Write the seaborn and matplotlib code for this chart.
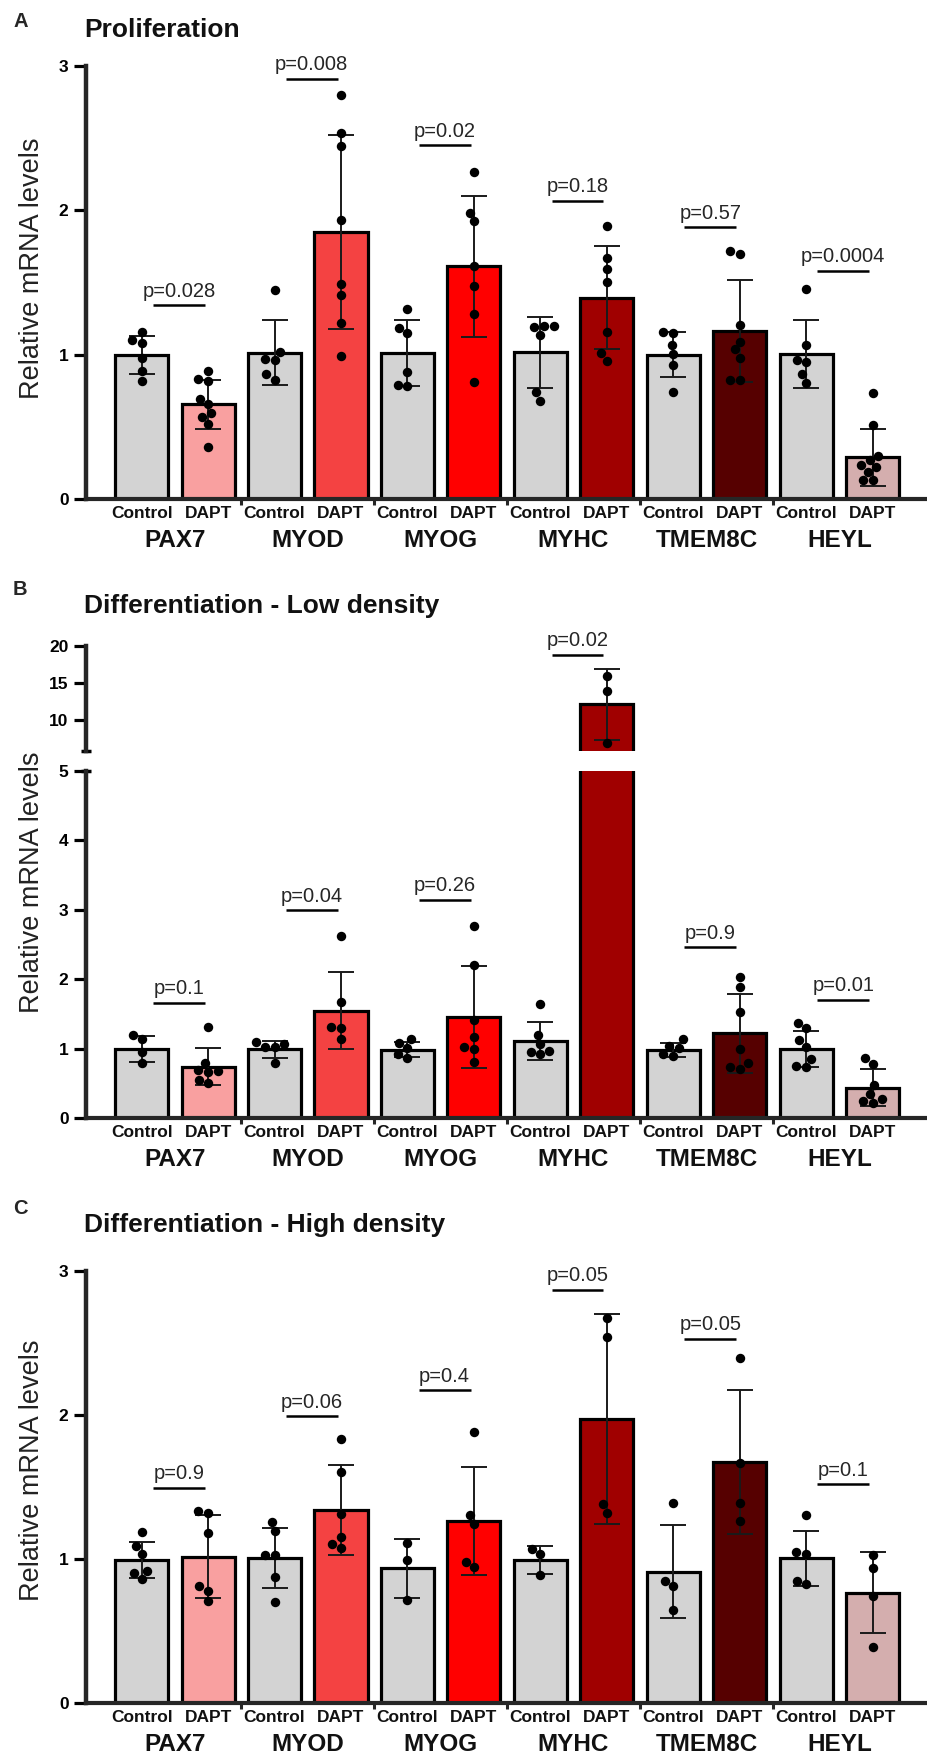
import numpy as np
import pandas as pd
import matplotlib
matplotlib.use("Agg")
import matplotlib.pyplot as plt
import seaborn as sns

# genes and groups
genes = ["PAX7", "MYOD", "MYOG", "MYHC", "TMEM8C", "HEYL"]
conditions = ["Control", "DAPT"]
control_color = "#D3D3D3"
dapt_colors = ["#F9A0A0", "#F44242", "#FF0000", "#A00000", "#560000", "#D4AEAE"]

# A - Proliferation (bar order: gene Control, gene DAPT, ...)
prolif_means = [1.00, 0.657, 1.012, 1.85, 1.012, 1.613, 1.017, 1.394, 1.0, 1.165, 1.005, 0.289]
prolif_sd = [0.131, 0.17, 0.225, 0.672, 0.228, 0.488, 0.245, 0.357, 0.157, 0.354, 0.236, 0.199]
prolif_points = [
    [1.16, 1.10, 1.08, 0.975, 0.886, 0.815],
    [0.886, 0.831, 0.819, 0.696, 0.655, 0.593, 0.569, 0.517, 0.362],
    [1.446, 1.017, 0.97, 0.963, 0.863, 0.827],
    [2.80, 2.535, 2.447, 1.935, 1.49, 1.41, 1.22, 0.994],
    [1.315, 1.184, 1.148, 0.879, 0.791, 0.784],
    [2.268, 1.982, 1.923, 1.613, 1.475, 1.284, 0.808],
    [1.20, 1.20, 1.189, 1.137, 0.739, 0.679],
    [1.894, 1.67, 1.594, 1.501, 1.16, 1.013, 0.958],
    [1.16, 1.148, 1.07, 1.005, 0.927, 0.739],
    [1.72, 1.696, 1.208, 1.089, 1.036, 0.98, 0.827, 0.827],
    [1.458, 1.065, 0.963, 0.946, 0.863, 0.803],
    [0.731, 0.512, 0.298, 0.267, 0.236, 0.219, 0.188, 0.131, 0.131],
]
prolif_p = ["p=0.028", "p=0.008", "p=0.02", "p=0.18", "p=0.57", "p=0.0004"]
prolif_p_y = [1.344, 2.912, 2.452, 2.066, 1.882, 1.582]

# B - Differentiation, low density
low_means = [0.995, 0.745, 0.99, 1.55, 0.988, 1.46, 1.111, 12.1, 0.985, 1.221, 1.001, 0.44]
low_sd = [0.185, 0.26, 0.121, 0.55, 0.11, 0.73, 0.275, 4.8, 0.1, 0.564, 0.26, 0.27]
low_points = [
    [1.194, 1.139, 0.957, 0.792],
    [1.32, 0.80, 0.70, 0.68, 0.67, 0.55, 0.51],
    [1.10, 1.067, 1.03, 1.03, 0.792],
    [2.624, 1.672, 1.32, 1.304, 1.139],
    [1.139, 1.083, 1.012, 0.919, 0.864],
    [2.761, 2.2, 1.414, 1.166, 1.029, 1.0, 0.809],
    [1.645, 1.205, 1.073, 0.974, 0.957, 0.919],
    [15.95, 13.9, 6.95],
    [1.139, 1.045, 1.012, 0.919, 0.902],
    [2.035, 1.892, 1.524, 1.001, 0.792, 0.737, 0.715],
    [1.375, 1.304, 1.122, 1.029, 0.853, 0.754, 0.737],
    [0.864, 0.781, 0.479, 0.352, 0.275, 0.242, 0.22],
]
low_p = ["p=0.1", "p=0.04", "p=0.26", "p=0.02", "p=0.9", "p=0.01"]
low_p_y = [1.661, 2.992, 3.146, 18.85, 2.459, 1.705]

# C - Differentiation, high density
high_means = [0.995, 1.015, 1.008, 1.34, 0.936, 1.266, 0.993, 1.973, 0.914, 1.673, 1.005, 0.766]
high_sd = [0.126, 0.288, 0.206, 0.31, 0.205, 0.374, 0.097, 0.729, 0.323, 0.5, 0.191, 0.281]
high_points = [
    [1.189, 1.093, 1.038, 0.92, 0.906, 0.865],
    [1.334, 1.32, 1.18, 0.81, 0.782, 0.708],
    [1.257, 1.194, 1.029, 1.029, 0.878, 0.70],
    [1.834, 1.606, 1.312, 1.153, 1.106, 1.079],
    [1.112, 0.996, 0.716],
    [1.88, 1.304, 1.243, 0.983, 0.947],
    [1.073, 1.038, 0.887],
    [2.671, 2.542, 1.381, 1.32],
    [1.389, 0.845, 0.81, 0.645],
    [2.396, 1.669, 1.389, 1.265],
    [1.304, 1.046, 1.038, 0.845, 0.826],
    [1.029, 0.936, 0.744, 0.387],
]
high_p = ["p=0.9", "p=0.06", "p=0.4", "p=0.05", "p=0.05", "p=0.1"]
high_p_y = [1.496, 1.993, 2.171, 2.869, 2.528, 1.518]

bar_names = [f"{g} {c}" for g in genes for c in conditions]
palette = {}
for g, dc in zip(genes, dapt_colors):
    palette[f"{g} Control"] = control_color
    palette[f"{g} DAPT"] = dc

sns.set_theme(style="white")
plt.rcParams["font.family"] = ["Liberation Sans", "DejaVu Sans"]

W, H = 927, 1760
fig = plt.figure(figsize=(W / 100, H / 100), dpi=100)


def px_box(left, top, right, bottom):
    return [left / W, 1 - bottom / H, (right - left) / W, (bottom - top) / H]


def draw_bars(ax, means, sds, points, lo, hi):
    bars = pd.DataFrame({"bar": bar_names, "mean": means})
    sns.barplot(data=bars, x="bar", y="mean", hue="bar", palette=palette,
                order=bar_names, hue_order=bar_names, legend=False, width=0.8,
                saturation=1, edgecolor="black", linewidth=2.3, errorbar=None,
                ax=ax, zorder=2)
    ax.errorbar(np.arange(len(bar_names)), means, yerr=sds, fmt="none",
                ecolor="#1a1a1a", elinewidth=1.4, capsize=9.5, capthick=1.4, zorder=3)
    pts = pd.DataFrame([(b, v) for b, vals in zip(bar_names, points) for v in vals],
                       columns=["bar", "value"])
    pts = pts[(pts["value"] >= lo) & (pts["value"] <= hi)]
    sns.swarmplot(data=pts, x="bar", y="value", order=bar_names, color="black",
                  size=6.8, ax=ax, zorder=4)


def add_pvalues(ax, texts, heights, lo, hi):
    for i, (txt, y) in enumerate(zip(texts, heights)):
        if not (lo <= y <= hi):
            continue
        xc = 2 * i + 0.56
        ax.plot([xc - 0.39, xc + 0.39], [y, y], color="black", lw=1.8,
                solid_capstyle="butt", zorder=5)
        ax.annotate(txt, (xc, y), xytext=(0, 6), textcoords="offset points",
                    ha="center", va="baseline", fontsize=14.5, color="#262626")


def style_axes(ax, ticks, lo, hi, bottom=True):
    ax.set_xlim(-0.838, 11.82)
    ax.set_ylim(lo, hi)
    ax.spines["top"].set_visible(False)
    ax.spines["right"].set_visible(False)
    ax.spines["left"].set_linewidth(3.2)
    ax.spines["bottom"].set_linewidth(3)
    ax.set_yticks(ticks)
    ax.set_yticklabels([str(t) for t in ticks], fontweight="bold", fontsize=12.5)
    ax.tick_params(axis="y", left=True, length=8.6, width=2.3, pad=4, colors="black")
    ax.set_xlabel("")
    ax.set_ylabel("")
    if bottom:
        ax.set_xticks([1.5, 3.5, 5.5, 7.5, 9.5])
        ax.set_xticklabels([])
        ax.tick_params(axis="x", bottom=True, length=4.3, width=2.2, direction="out")
        trans = ax.get_xaxis_transform()
        for i, name in enumerate(bar_names):
            ax.annotate(conditions[i % 2], xy=(i, 0), xycoords=trans, xytext=(0, -13.7),
                        textcoords="offset points", ha="center", va="baseline",
                        fontsize=12.5, fontweight="bold", color="#111111")
        for gi, gene in enumerate(genes):
            ax.annotate(gene, xy=(2 * gi + 0.5, 0), xycoords=trans, xytext=(0, -34.5),
                        textcoords="offset points", ha="center", va="baseline",
                        fontsize=17.5, fontweight="bold", color="#111111")
    else:
        ax.spines["bottom"].set_visible(False)
        ax.set_xticks([])


def panel_header(letter, title, letter_base, title_base, label_center):
    fig.text(13 / W, 1 - letter_base / H, letter, fontsize=14.5, fontweight="bold",
             va="baseline", ha="left")
    fig.text(84 / W, 1 - title_base / H, title, fontsize=19, fontweight="bold",
             va="baseline", ha="left", color="#111111")
    fig.text(32.5 / W, 1 - label_center / H, "Relative mRNA levels", rotation=90,
             ha="center", va="center", fontsize=19.5, color="#222222")


# A
ax_a = fig.add_axes(px_box(86, 66, 927, 499))
draw_bars(ax_a, prolif_means, prolif_sd, prolif_points, 0, 3)
add_pvalues(ax_a, prolif_p, prolif_p_y, 0, 3)
style_axes(ax_a, [0, 1, 2, 3], 0, 3)
panel_header("A", "Proliferation", 27, 37.3, 268)

# B (broken y axis)
ax_bt = fig.add_axes(px_box(86, 646, 927, 750.7))
ax_bl = fig.add_axes(px_box(86, 770.7, 927, 1118.3))
draw_bars(ax_bt, low_means, low_sd, low_points, 5.85, 20)
draw_bars(ax_bl, low_means, low_sd, low_points, 0, 5)
add_pvalues(ax_bt, low_p, low_p_y, 5.85, 20)
add_pvalues(ax_bl, low_p, low_p_y, 0, 5)
style_axes(ax_bt, [10, 15, 20], 5.85, 20, bottom=False)
style_axes(ax_bl, [0, 1, 2, 3, 4, 5], 0, 5)
for ax_b, yb in ((ax_bt, 0), (ax_bl, 1)):
    ax_b.plot([-0.006, 0.006], [yb, yb], transform=ax_b.transAxes, color="black",
              lw=2.5, clip_on=False, solid_capstyle="butt")
panel_header("B", "Differentiation - Low density", 595, 613, 882)

# C
ax_c = fig.add_axes(px_box(86, 1270.7, 927, 1703.3))
draw_bars(ax_c, high_means, high_sd, high_points, 0, 3)
add_pvalues(ax_c, high_p, high_p_y, 0, 3)
style_axes(ax_c, [0, 1, 2, 3], 0, 3)
panel_header("C", "Differentiation - High density", 1213.5, 1232.3, 1470)

fig.savefig("out.png", dpi=100)
